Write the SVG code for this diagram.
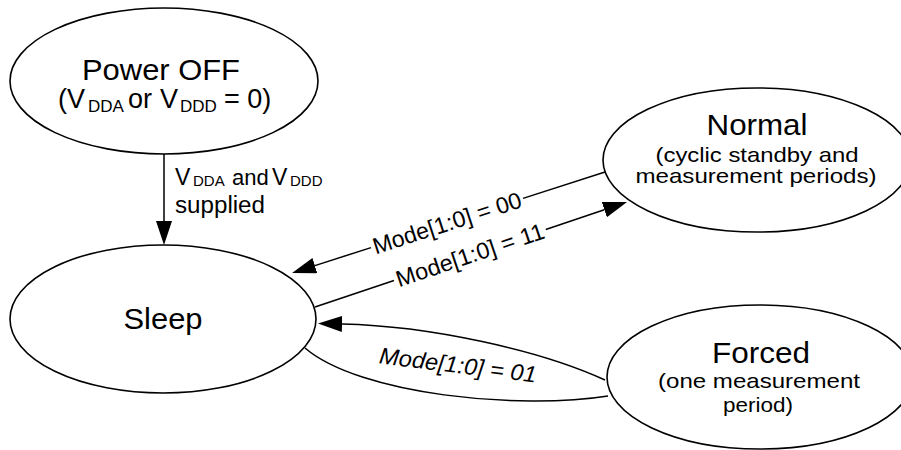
<svg xmlns="http://www.w3.org/2000/svg" width="901" height="450" viewBox="0 0 901 450">
<style>
.node ellipse{fill:#fff;stroke:#000;stroke-width:1.6}
text{font-family:"Liberation Sans",Arial,sans-serif;fill:#000}
.t{font-size:30px;text-anchor:middle}
.s{font-size:21px;text-anchor:middle}
.e{fill:none;stroke:#000;stroke-width:1.5}
.lbl{font-size:23px;text-anchor:middle}
</style>
<defs>
<marker id="arr" markerUnits="userSpaceOnUse" viewBox="0 0 24 16" markerWidth="24" markerHeight="16" refX="0" refY="8" orient="auto">
<path d="M0,0 L24,8 L0,16 z" fill="#000"/>
</marker>
</defs>
<g id="connectors">
<line class="e" x1="164" y1="154" x2="164" y2="221" marker-end="url(#arr)"/>
<text font-size="23" y="185"><tspan x="175">V</tspan><tspan x="193" font-size="15" dy="1">DDA</tspan><tspan x="232" dy="-1" font-size="22">and</tspan><tspan x="272">V</tspan><tspan x="290" font-size="15" dy="1">DDD</tspan></text>
<text font-size="23" x="175" y="213" textLength="90" lengthAdjust="spacingAndGlyphs">supplied</text>
<line class="e" x1="605" y1="172" x2="523" y2="198.4"/>
<line class="e" x1="371" y1="247.6" x2="314.9" y2="265.6" marker-end="url(#arr)"/>
<text class="lbl" transform="translate(447,223) rotate(-17.9)" x="0" y="8" textLength="155" lengthAdjust="spacingAndGlyphs">Mode[1:0] = 00</text>
<line class="e" x1="315" y1="307" x2="394" y2="280.5"/>
<line class="e" x1="545.8" y1="229.5" x2="604.3" y2="209.7" marker-end="url(#arr)"/>
<text class="lbl" transform="translate(470,255) rotate(-18.6)" x="0" y="8" textLength="155" lengthAdjust="spacingAndGlyphs">Mode[1:0] = 11</text>
<path class="e" d="M605,380 C540,350 430,326 342,324" marker-end="url(#arr)"/>
<path class="e" d="M305,348 C360,395 520,410 608,396"/>
<text class="lbl" font-style="italic" transform="translate(458,365) rotate(7)" x="0" y="8" textLength="158" lengthAdjust="spacingAndGlyphs">Mode[1:0] = 01</text>
</g>
<g id="power_off" class="node">
<ellipse cx="164" cy="81" rx="154" ry="73"/>
<text class="t" x="161" y="80" textLength="158" lengthAdjust="spacingAndGlyphs">Power OFF</text>
<text font-size="27" y="108"><tspan x="58">(V</tspan><tspan x="88" font-size="17" dy="4">DDA</tspan><tspan x="128" dy="-4">or</tspan><tspan x="160">V</tspan><tspan x="180" font-size="17" dy="4">DDD</tspan><tspan x="224" dy="-4">= 0)</tspan></text>
</g>
<g id="sleep" class="node">
<ellipse cx="163" cy="319" rx="153" ry="74"/>
<text class="t" x="163" y="329" textLength="79" lengthAdjust="spacingAndGlyphs">Sleep</text>
</g>
<g id="normal" class="node">
<ellipse cx="757" cy="160" rx="154" ry="72"/>
<text class="t" x="757" y="135" textLength="101" lengthAdjust="spacingAndGlyphs">Normal</text>
<text class="s" x="757" y="162" textLength="203" lengthAdjust="spacingAndGlyphs">(cyclic standby and</text>
<text class="s" x="756" y="183" textLength="241" lengthAdjust="spacingAndGlyphs">measurement periods)</text>
</g>
<g id="forced" class="node">
<ellipse cx="760" cy="377" rx="153" ry="72"/>
<text class="t" x="761" y="363" textLength="98" lengthAdjust="spacingAndGlyphs">Forced</text>
<text class="s" x="759" y="388" textLength="202" lengthAdjust="spacingAndGlyphs">(one measurement</text>
<text class="s" x="758" y="412" textLength="70" lengthAdjust="spacingAndGlyphs">period)</text>
</g>
</svg>
